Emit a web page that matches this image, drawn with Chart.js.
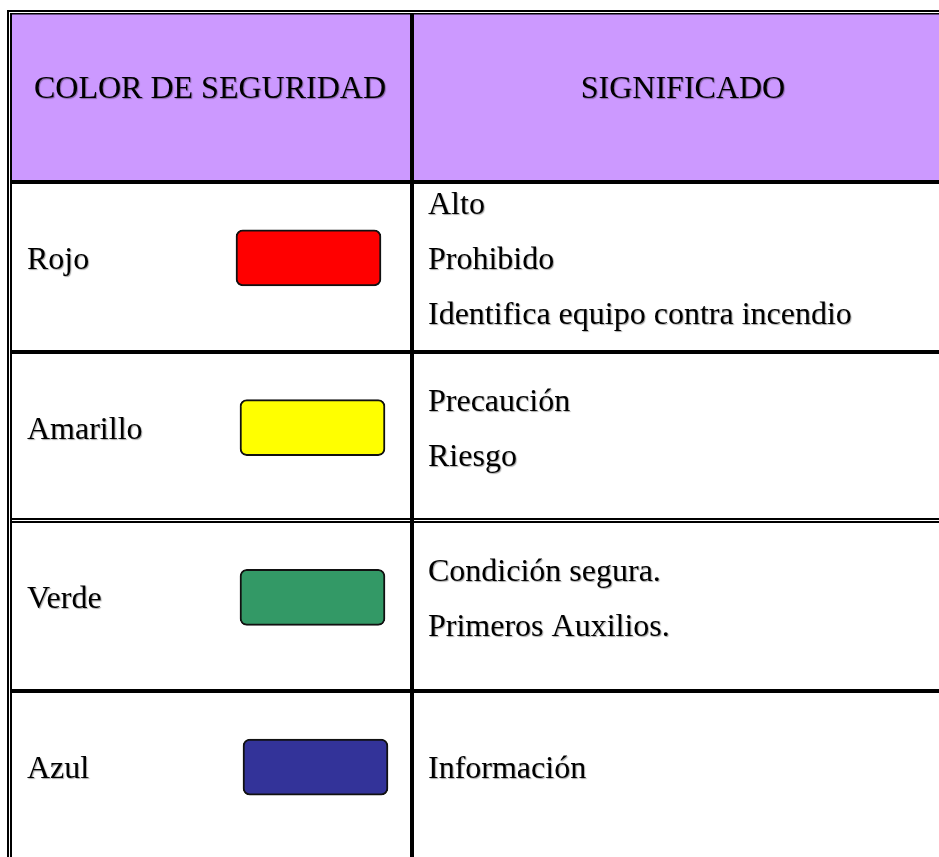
<!DOCTYPE html>
<html>
<head>
<meta charset="utf-8">
<title>Colores de seguridad</title>
<script src="https://cdn.jsdelivr.net/npm/chart.js@4/dist/chart.umd.min.js"></script>
<style>
  html, body { margin: 0; padding: 0; background: #fff; overflow: hidden; }
  canvas { display: block; }
</style>
</head>
<body>
<canvas id="tabla" width="939" height="857"></canvas>
<script>
// Datos de la tabla
const headers = ['COLOR DE SEGURIDAD', 'SIGNIFICADO'];
const colorNames = ['Rojo', 'Amarillo', 'Verde', 'Azul'];
const swatchColors = ['#ff0000', '#ffff00', '#339966', '#333399'];
const meanings = [
    ['Alto', 'Prohibido', 'Identifica equipo contra incendio'],
    ['Precaución', 'Riesgo'],
    ['Condición segura.', 'Primeros Auxilios.'],
    ['Información']
];

// Maquetación (px)
const swatchLeft = [236, 240, 240, 243];
const swatchWidth = 145;
const font = '32px "Liberation Serif", "Times New Roman", serif';
const lineGap = 55;

function textShadow(ctx) {
    ctx.shadowColor = 'rgba(0, 0, 0, 0.35)';
    ctx.shadowOffsetX = 1;
    ctx.shadowOffsetY = 1;
    ctx.shadowBlur = 1;
}

// Plugin que dibuja la cuadrícula y los textos
const tablePlugin = {
    id: 'tabla',
    beforeDatasetsDraw(chart) {
        const ctx = chart.ctx;
        const W = chart.width;
        const H = chart.height;
        const yScale = chart.scales.y;
        const rowY = colorNames.map((_, i) => yScale.getPixelForValue(i));

        ctx.save();
        ctx.fillStyle = '#fff';
        ctx.fillRect(0, 0, W, H);

        // Encabezado
        ctx.fillStyle = '#cc99ff';
        ctx.fillRect(12, 14, 398, 166);
        ctx.fillRect(414, 14, W - 414, 166);

        // Bordes
        ctx.fillStyle = '#000';
        ctx.fillRect(7, 10, W, 2);
        ctx.fillRect(10, 13, W, 1.5);
        ctx.fillRect(7, 10, 2, H);
        ctx.fillRect(10, 13, 2, H);
        ctx.fillRect(10, 180, W, 4);
        ctx.fillRect(410, 13, 4, H);

        // Separadores de filas
        const sep1 = (rowY[0] + rowY[1]) / 2 + 9;
        const sep2 = (rowY[1] + rowY[2]) / 2 + 8;
        const sep3 = (rowY[2] + rowY[3]) / 2 + 9;
        ctx.fillRect(10, Math.round(sep1 - 2), W, 4);
        ctx.fillRect(10, Math.round(sep2 - 2.5), W, 2);
        ctx.fillRect(10, Math.round(sep2 + 0.5), W, 2);
        ctx.fillRect(10, Math.round(sep3 - 2), W, 4);

        // Textos
        ctx.font = font;
        ctx.fillStyle = '#000';
        ctx.textBaseline = 'alphabetic';
        textShadow(ctx);

        ctx.textAlign = 'center';
        ctx.fillText(headers[0], 210, 98);
        ctx.fillText(headers[1], 683, 98);

        ctx.textAlign = 'left';
        colorNames.forEach((name, i) => {
            ctx.fillText(name, 27, rowY[i] + 11);
            const lines = meanings[i];
            const start = rowY[i] - (lines.length - 1) * lineGap / 2;
            lines.forEach((t, k) => {
                ctx.fillText(t, 428, start + k * lineGap + 11);
            });
        });
        ctx.restore();
    }
};

new Chart(document.getElementById('tabla'), {
    type: 'bar',
    data: {
        labels: colorNames,
        datasets: [{
            data: swatchLeft.map(l => [l, l + swatchWidth]),
            backgroundColor: swatchColors,
            borderColor: '#111',
            borderWidth: 2,
            borderRadius: 7,
            borderSkipped: false,
            barThickness: 56
        }]
    },
    plugins: [tablePlugin],
    options: {
        indexAxis: 'y',
        responsive: false,
        animation: false,
        layout: { padding: { top: 173, bottom: 5, left: 0, right: 0 } },
        scales: {
            x: { type: 'linear', min: 0, max: 939, display: false },
            y: { type: 'category', display: false }
        },
        plugins: {
            legend: { display: false },
            tooltip: { enabled: false }
        }
    }
});
</script>
</body>
</html>
